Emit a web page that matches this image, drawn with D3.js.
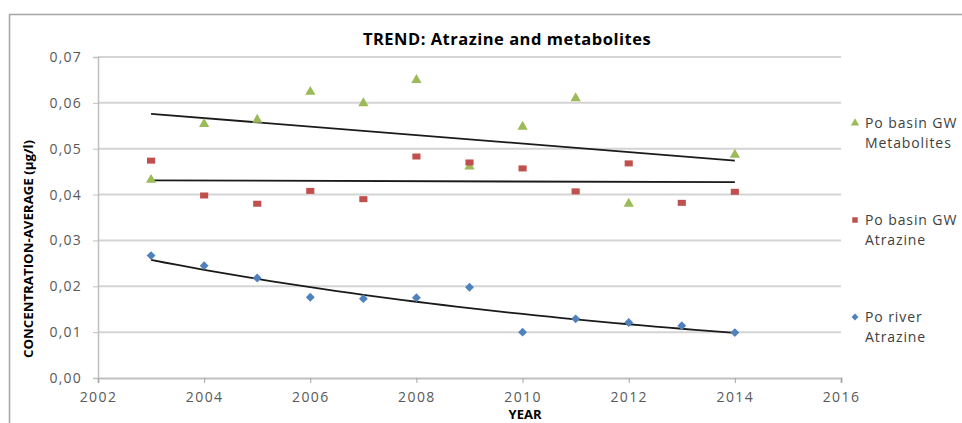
<!DOCTYPE html>
<html>
<head>
<meta charset="utf-8">
<script src="https://cdn.jsdelivr.net/npm/d3@7"></script>
<style>
  body { margin: 0; background: #fff; }
  svg { display: block; font-family: "Open Sans", sans-serif; }
</style>
</head>
<body>
<script>
// data
const years = [2003, 2004, 2005, 2006, 2007, 2008, 2009, 2010, 2011, 2012, 2013, 2014];
const metabolites = [0.0432, 0.0554, 0.0563, 0.0624, 0.0599, 0.0650, 0.0461, 0.0548, 0.0610, 0.0380, null, 0.0487];
const gwAtrazine = [0.0474, 0.0398, 0.0380, 0.0408, 0.0390, 0.0483, 0.0470, 0.0457, 0.0407, 0.0468, 0.0382, 0.0406];
const riverAtrazine = [0.0267, 0.0245, 0.0218, 0.0176, 0.0173, 0.0175, 0.0198, 0.0100, 0.0129, 0.0121, 0.0114, 0.0099];
// linear trend lines as drawn (end points)
const metabolitesTrend = [[2003, 0.0576], [2014, 0.0474]];
const gwAtrazineTrend = [[2003, 0.0431], [2014, 0.0427]];
const xTicks = [2002, 2004, 2006, 2008, 2010, 2012, 2014, 2016];
const yTicks = [0, 0.01, 0.02, 0.03, 0.04, 0.05, 0.06, 0.07];

const W = 962, H = 423;
const margin = { top: 57, right: 121, bottom: 45, left: 98 };

let svg = d3.select("body").append("svg")
    .attr("width", W)
    .attr("height", H);

// chart frame (only top and left edges are visible)
svg.append("path")
    .attr("d", "M9.5,423V14.5H962")
    .attr("fill", "none")
    .attr("stroke", "#a6a6a6")
    .attr("stroke-width", 1.5);

const x = d3.scaleLinear().domain([2002, 2016]).range([margin.left, W - margin.right]);
const y = d3.scaleLinear().domain([0, 0.07]).range([H - margin.bottom, margin.top]);
const fmt = v => d3.format(".2f")(v).replace(".", ",");

// gridlines
svg.append("g").selectAll("line")
    .data(yTicks.slice(1))
    .enter().append("line")
      .attr("x1", x(2002)).attr("x2", x(2016))
      .attr("y1", d => y(d)).attr("y2", d => y(d))
      .attr("stroke", "#d4d4d4")
      .attr("stroke-width", 2);

// y axis
let yAxis = svg.append("g")
    .attr("transform", `translate(${x(2002)},0)`)
    .call(d3.axisLeft(y).tickValues(yTicks).tickFormat(fmt).tickSize(5).tickPadding(11));
yAxis.select(".domain").attr("stroke", "#bfbfbf").attr("stroke-width", 1.5);
yAxis.selectAll(".tick line").attr("stroke", "#bfbfbf");
yAxis.selectAll("text")
    .attr("font-size", 14).attr("fill", "#595959")
    .attr("font-family", "Open Sans").style("letter-spacing", "1.2px");

// x axis
let xAxis = svg.append("g")
    .attr("transform", `translate(0,${y(0)})`)
    .call(d3.axisBottom(x).tickValues(xTicks).tickFormat(d3.format("d")).tickSize(5).tickPadding(9));
xAxis.select(".domain").attr("stroke", "#bfbfbf").attr("stroke-width", 2);
xAxis.selectAll(".tick line").attr("stroke", "#a6a6a6");
xAxis.selectAll("text")
    .attr("font-size", 14).attr("fill", "#595959")
    .attr("font-family", "Open Sans").style("letter-spacing", "1.4px");

// trend lines
const line = d3.line().x(d => x(d[0])).y(d => y(d[1]));

// exponential fit for the river series
const lnPts = years.map((yr, i) => [yr, Math.log(riverAtrazine[i])]);
const mx = d3.mean(lnPts, d => d[0]), my = d3.mean(lnPts, d => d[1]);
const slope = d3.sum(lnPts, d => (d[0] - mx) * (d[1] - my)) / d3.sum(lnPts, d => (d[0] - mx) ** 2);
const riverTrend = d3.range(2003, 2014.01, 0.25).map(t => [t, Math.exp(my + slope * (t - mx))]);

let trends = svg.append("g").attr("id", "trends");
[metabolitesTrend, gwAtrazineTrend, riverTrend].forEach(t => {
    trends.append("path")
        .attr("d", line(t))
        .attr("fill", "none")
        .attr("stroke", "#1a1a1a")
        .attr("stroke-width", 1.8);
});

// markers
const series = [
    { name: ["Po basin GW", "Metabolites"], values: metabolites, color: "#9bbb59", type: d3.symbolTriangle, size: 46, sx: 1, sy: 1, ly: 128 },
    { name: ["Po basin GW", "Atrazine"], values: gwAtrazine, color: "#c0504d", type: d3.symbolSquare, size: 50, sx: 1.15, sy: 0.85, ly: 225 },
    { name: ["Po river", "Atrazine"], values: riverAtrazine, color: "#4f81bd", type: d3.symbolDiamond2, size: 50, sx: 1, sy: 1, ly: 322 }
];

series.forEach(s => {
    let pts = years.map((yr, i) => [yr, s.values[i]]).filter(d => d[1] != null);
    svg.append("g").selectAll("path")
        .data(pts)
        .enter().append("path")
          .attr("d", d3.symbol().type(s.type).size(s.size)())
          .attr("transform", d => `translate(${x(d[0])},${y(d[1])}) scale(${s.sx},${s.sy})`)
          .attr("fill", s.color);

    // legend
    let lg = svg.append("g").attr("transform", `translate(855,${s.ly - 5})`);
    lg.append("path")
        .attr("d", d3.symbol().type(s.type).size(30)())
        .attr("fill", s.color);
    lg.append("text")
        .attr("x", 10).attr("y", 5)
        .attr("font-size", 14).attr("fill", "#404040")
        .style("letter-spacing", "0.9px")
        .selectAll("tspan")
        .data(s.name)
        .enter().append("tspan")
          .attr("x", 10)
          .attr("dy", (d, i) => i ? 19.5 : 0)
          .text(d => d);
});

// titles
svg.append("text")
    .attr("x", 507).attr("y", 45)
    .attr("text-anchor", "middle")
    .attr("font-size", 16.5).attr("font-weight", "bold").attr("fill", "#000")
    .style("letter-spacing", "0.5px")
    .text("TREND: Atrazine and metabolites");

svg.append("text")
    .attr("transform", "translate(33,249) rotate(-90)")
    .attr("text-anchor", "middle")
    .attr("font-size", 11.5).attr("font-weight", "bold").attr("fill", "#000")
    .attr("textLength", 218).attr("lengthAdjust", "spacingAndGlyphs")
    .text("CONCENTRATION-AVERAGE (µg/l)");

svg.append("text")
    .attr("x", 525).attr("y", 419)
    .attr("text-anchor", "middle")
    .attr("font-size", 13).attr("font-weight", "bold").attr("fill", "#000")
    .text("YEAR");
</script>
</body>
</html>
